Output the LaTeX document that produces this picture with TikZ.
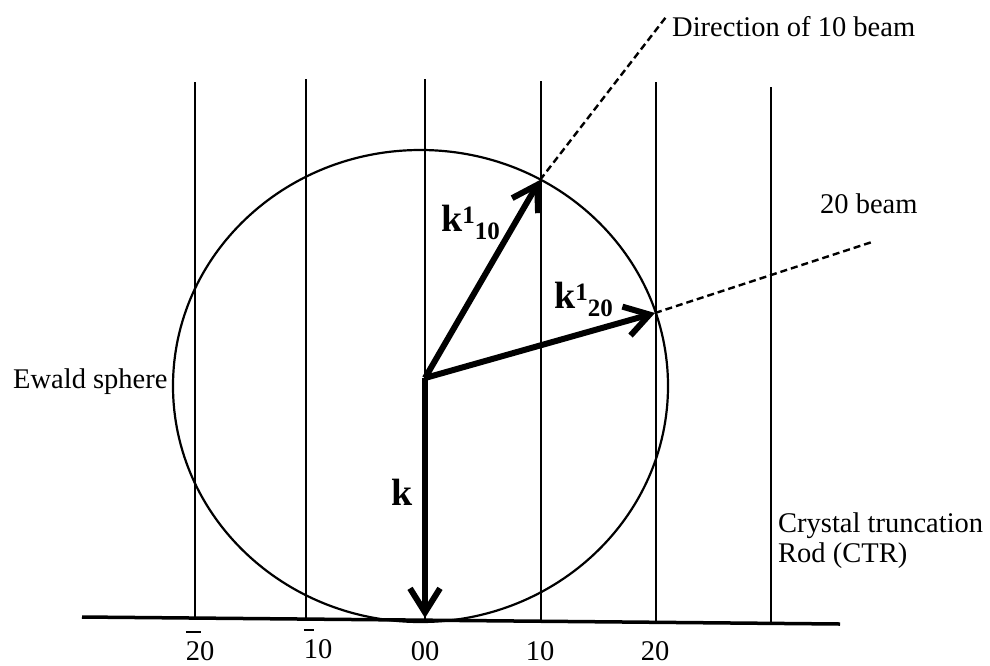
\documentclass[tikz,border=0pt]{standalone}
\usepackage{fontspec}
\setmainfont{Liberation Serif}
\usetikzlibrary{arrows.meta,calc}
\newcommand\rodbar[2]{\rlap{\rule[0.95em]{#2}{0.08em}}#1}
\newcommand\kup[1]{\raisebox{8pt}{\fontsize{25}{25}\selectfont#1}}
\newcommand\kdown[1]{\raisebox{-8pt}{\fontsize{25}{25}\selectfont#1}}

\begin{document}
\begin{tikzpicture}[x=1pt,y=-1pt,
  every node/.style={font=\fontsize{28.5}{31}\selectfont,inner sep=0pt},
  rod/.style={line width=2.4pt},
  wave/.style={-{Straight Barb[length=24pt,width=30pt,line width=6pt]},line width=6pt},
  beam/.style={line width=2.4pt,dash pattern=on 7pt off 4pt},
  klabel/.style={font=\fontsize{38}{40}\selectfont\bfseries,anchor=base west},
  idx/.style={anchor=base},
  txt/.style={anchor=base west},
]
\useasboundingbox (0,0) rectangle (990,665);

% reciprocal lattice rods
\foreach \x/\t [count=\i] in {195/82,306/79,425/79,541/81,656/82,771/87}{
  \pgfmathsetmacro\yb{617+7*(\x-82)/758}
  \coordinate (rt\i) at (\x,\t);
  \coordinate (rb\i) at (\x,\yb);
  \draw[rod] (rt\i) -- (rb\i);
}

% surface line
\coordinate (bl) at (82,617);
\coordinate (br) at (840,624);
\draw[line width=3.5pt] (bl) -- (br);

% Ewald sphere
\draw[line width=2.2pt] (420.5,386) ellipse [x radius=247.5, y radius=236];

% wave vectors
\coordinate (O) at (425,378);
\coordinate (kt) at (425,618);
\coordinate (t10) at (540,180);
\coordinate (t20) at (655,313);
\coordinate (e10) at (666,17);
\coordinate (e20) at (872,242);

\draw[beam] (t10) -- (e10);
\draw[beam] (t20) -- (e20);
\draw[wave] (O) -- (kt);
\draw[wave] (O) -- (t10);
\draw[wave] (O) -- (t20);

\node[klabel] (k) at (391,505) {k};
\node[klabel] (k10) at (441,231) {k\kup{1}\kdown{10}};
\node[klabel] (k20) at (554,308) {k\kup{1}\kdown{20}};

% rod indices
\node[idx] (l1) at (200,660) {\rodbar{2}{0.55em}0};
\node[idx] (l2) at (318,658) {\rodbar{1}{0.36em}0};
\node[idx] (l3) at (425,660) {00};
\node[idx] (l4) at (540,660) {10};
\node[idx] (l5) at (655,660) {20};

% annotations
\node[txt] (dir10) at (672,36) {Direction of 10 beam};
\node[txt] (b20) at (820,213) {20 beam};
\node[txt] (ewald) at (13,388) {Ewald sphere};
\node[txt] (ctr1) at (778,532) {Crystal truncation};
\node[txt] (ctr2) at (778,562) {Rod (CTR)};
\end{tikzpicture}
\end{document}
